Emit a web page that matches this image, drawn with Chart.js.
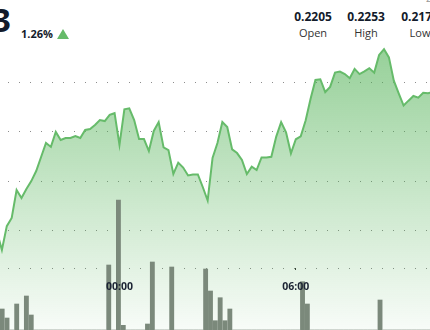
<!DOCTYPE html>
<html>
<head>
<meta charset="utf-8">
<script src="https://cdn.jsdelivr.net/npm/chart.js@4.4.1/dist/chart.umd.min.js"></script>
<style>
  html, body { margin: 0; padding: 0; background: #fff; }
  body { width: 430px; height: 330px; position: relative; overflow: hidden; font-family: "Open Sans", sans-serif; color: #131b2b; }
  #chart { position: absolute; left: -3px; top: 0; }
  .price { position: absolute; right: 419px; top: 0; font-size: 33px; font-weight: 700; line-height: 40px; white-space: nowrap; }
  .change { position: absolute; left: 21px; top: 26px; font-size: 11px; font-weight: 700; line-height: 15px; }
  .arrow { position: absolute; left: 57px; top: 29px; width: 0; height: 0;
           border-left: 6px solid transparent; border-right: 6px solid transparent; border-bottom: 10px solid #66bb6a; }
  .stat { position: absolute; top: 8px; width: 60px; text-align: center; }
  .stat b { display: block; font-size: 12px; line-height: 17px; }
  .stat span { display: block; font-size: 11px; line-height: 15px; color: #333; }
  .corner { position: absolute; left: 426px; top: -9px; font-size: 10px; color: #999; }
</style>
</head>
<body>
<div class="price">0.2233</div>
<div class="change">1.26%</div>
<div class="arrow"></div>
<div class="stat" style="left:283px"><b>0.2205</b><span>Open</span></div>
<div class="stat" style="left:336px"><b>0.2253</b><span>High</span></div>
<div class="stat" style="left:390px"><b>0.2172</b><span>Low</span></div>
<div class="corner">2</div>
<canvas id="chart" width="436" height="330"></canvas>
<script>
// 10-minute candles, first slot at 19:50
const prices = [
  0.21793, 0.21720, 0.21817, 0.21850, 0.21964, 0.21931, 0.21968, 0.22000, 0.22041, 0.22098,
  0.22155, 0.22139, 0.22200, 0.22167, 0.22175, 0.22175, 0.22183, 0.22175, 0.22208, 0.22212,
  0.22228, 0.22248, 0.22244, 0.22269, 0.22276, 0.22147, 0.22292, 0.22296, 0.22248, 0.22171,
  0.22171, 0.22122, 0.22204, 0.22240, 0.22137, 0.22126, 0.22029, 0.22075, 0.22055, 0.22023,
  0.22027, 0.22027, 0.21976, 0.21921, 0.22094, 0.22155, 0.22240, 0.22220, 0.22129, 0.22114,
  0.22086, 0.22029, 0.22059, 0.22045, 0.22096, 0.22096, 0.22099, 0.22181, 0.22240, 0.22198,
  0.22113, 0.22170, 0.22182, 0.22246, 0.22334, 0.22411, 0.22414, 0.22362, 0.22383, 0.22441,
  0.22445, 0.22435, 0.22418, 0.22456, 0.22435, 0.22446, 0.22459, 0.22441, 0.22513, 0.22536,
  0.22503, 0.22408, 0.22357, 0.22307, 0.22327, 0.22346, 0.22339, 0.22359, 0.22357, 0.22362
];

// volume in thousands
const volumes = [
  700, 210, 120, 0, 260, 0, 340, 150, 0, 0,
  0, 0, 0, 0, 0, 0, 0, 0, 0, 0,
  0, 0, 0, 650, 0, 1300, 47, 0, 0, 0,
  0, 60, 680, 0, 0, 0, 630, 0, 0, 0,
  0, 0, 0, 610, 390, 93, 323, 93, 210, 0,
  0, 0, 0, 0, 0, 0, 0, 0, 0, 0,
  0, 0, 0, 483, 260, 0, 0, 0, 0, 0,
  0, 0, 0, 0, 0, 0, 0, 0, 0, 300,
  0, 0, 0, 0, 0, 0, 0, 0, 0, 0
];

// dotted price grid; the lowest one doubles as the time axis line
const gridPrices = [0.21645, 0.218, 0.220, 0.222, 0.224];
const timeAxisPrice = 0.21645;

const timeLabels = [];
for (let i = 0; i < prices.length; i++) {
  const m = (19 * 60 + 50 + i * 10) % 1440;
  timeLabels.push(String(Math.floor(m / 60)).padStart(2, "0") + ":" + String(m % 60).padStart(2, "0"));
}

const isMajor = i => {
  const t = timeLabels[i];
  return t && t.endsWith(":00") && parseInt(t, 10) % 6 === 0;
};

function areaGradient(context) {
  const { ctx, chartArea } = context.chart;
  if (!chartArea) return "rgba(102,187,106,0.3)";
  const g = ctx.createLinearGradient(0, chartArea.top + 40, 0, chartArea.bottom);
  g.addColorStop(0, "rgba(76,175,80,0.6)");
  g.addColorStop(1, "rgba(76,175,80,0.04)");
  return g;
}

Chart.defaults.font.family = "'Open Sans', sans-serif";

new Chart(document.getElementById("chart"), {
  type: "line",
  data: {
    labels: timeLabels,
    datasets: [
      {
        type: "bar",
        data: volumes,
        xAxisID: "xb",
        yAxisID: "yv",
        backgroundColor: "#7b897b",
        borderWidth: 0,
        barThickness: 4.2
      },
      {
        type: "line",
        data: prices,
        xAxisID: "x",
        yAxisID: "y",
        borderColor: "#66bb6a",
        borderWidth: 2,
        pointRadius: 0,
        tension: 0,
        fill: "start",
        backgroundColor: areaGradient
      }
    ]
  },
  options: {
    responsive: false,
    animation: false,
    devicePixelRatio: 1,
    layout: { padding: 0 },
    plugins: { legend: { display: false }, tooltip: { enabled: false } },
    scales: {
      x: {
        type: "category",
        offset: false,
        position: { y: timeAxisPrice },
        grid: {
          drawOnChartArea: false,
          tickLength: 12,
          tickBorderDash: [2, 100],
          tickColor: ctx => (isMajor(ctx.index) ? "#333" : "rgba(0,0,0,0)")
        },
        border: { display: false },
        ticks: {
          autoSkip: false,
          maxRotation: 0,
          padding: 0,
          z: 1,
          color: "#1b2333",
          font: { size: 10.5, weight: "bold" },
          callback: (value, index) => (isMajor(index) ? timeLabels[index] : "")
        }
      },
      xb: { type: "category", offset: true, display: false },
      y: {
        type: "linear",
        position: "left",
        min: 0.213947,
        max: 0.227362,
        afterBuildTicks: scale => { scale.ticks = gridPrices.map(v => ({ value: v })); },
        ticks: { display: false },
        grid: { color: "#8c8c8c", drawTicks: false },
        border: { display: false, dash: [1, 10] }
      },
      yv: { type: "linear", display: false, min: 0, max: 3300 }
    }
  }
});
</script>
</body>
</html>
